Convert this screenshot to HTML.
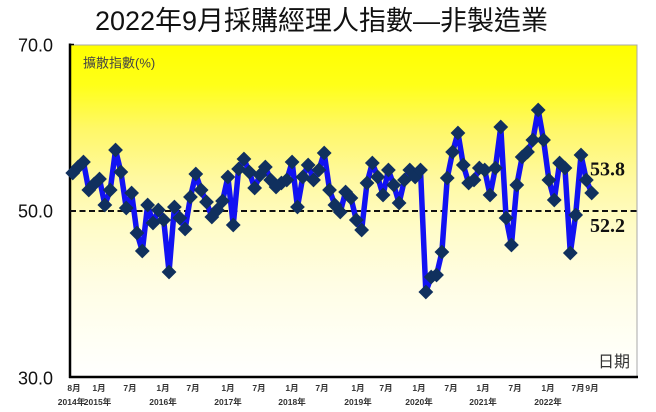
<!DOCTYPE html>
<html><head><meta charset="utf-8"><style>
html,body{margin:0;padding:0;background:#fff;}
svg{display:block;}
</style></head><body>
<svg width="656" height="412" viewBox="0 0 656 412" xmlns="http://www.w3.org/2000/svg">
<defs>
<linearGradient id="bg" x1="0" y1="0" x2="0" y2="1">
<stop offset="0" stop-color="#ffff00"/>
<stop offset="0.12" stop-color="#ffff18"/>
<stop offset="0.25" stop-color="#fff866"/>
<stop offset="0.40" stop-color="#fff9a0"/>
<stop offset="0.55" stop-color="#fffcc8"/>
<stop offset="0.72" stop-color="#fffde4"/>
<stop offset="0.88" stop-color="#fffff4"/>
<stop offset="1" stop-color="#ffffff"/>
</linearGradient>
<marker id="dm" markerUnits="userSpaceOnUse" markerWidth="18" markerHeight="18" refX="9" refY="9" orient="0">
<path d="M9 1.6 L16.4 9 L9 16.4 L1.6 9 Z" fill="#10305e"/>
</marker>
</defs>
<text x="95" y="30" font-family="'Liberation Sans','Noto Sans CJK TC',sans-serif" font-size="27" fill="#111" textLength="453" lengthAdjust="spacingAndGlyphs">2022年9月採購經理人指數—非製造業</text>
<rect x="70" y="45" width="567" height="332" fill="url(#bg)" stroke="#a8a8a8" stroke-width="1"/>
<line x1="70" y1="43.5" x2="70" y2="378" stroke="#000" stroke-width="2.5"/>
<line x1="70" y1="44.5" x2="74" y2="44.5" stroke="#000" stroke-width="1.5"/>
<line x1="69" y1="377" x2="638" y2="377" stroke="#000" stroke-width="2.5"/>
<g font-family="'Liberation Sans',sans-serif" font-size="18" fill="#111" text-anchor="end">
<text x="53" y="51.5">70.0</text>
<text x="53" y="217.5">50.0</text>
<text x="53" y="384.5">30.0</text>
</g>
<text x="83" y="67.5" font-family="'Liberation Sans','Noto Sans CJK TC',sans-serif" font-size="13" fill="#444">擴散指數(%)</text>
<text x="598" y="367" font-family="'Liberation Sans','Noto Sans CJK TC',sans-serif" font-size="16" fill="#333">日期</text>
<line x1="70" y1="211" x2="637" y2="211" stroke="#111" stroke-width="2" stroke-dasharray="6,3.5"/>
<polyline fill="none" stroke="#1212f2" stroke-width="5.5" stroke-linejoin="round" marker-start="url(#dm)" marker-mid="url(#dm)" marker-end="url(#dm)" points="72.75,173 78.10,167 83.45,162 88.80,190 94.15,184 99.50,179 104.85,205 110.20,190 115.55,150 120.90,172 126.25,208 131.60,193 136.95,233 142.30,251 147.65,205 153.00,223 158.35,210 163.70,220 169.05,272 174.40,207 179.75,218 185.10,229 190.45,197 195.80,174 201.15,190 206.50,202 211.85,217 217.20,210 222.55,201 227.90,177 233.25,225 238.60,169 243.95,159 249.30,172 254.65,188 260.00,175 265.35,167 270.70,180 276.05,187 281.40,183 286.75,180 292.10,162 297.45,207 302.80,177 308.15,165 313.50,180 318.85,170 324.20,153 329.55,190 334.90,205 340.25,212 345.60,192 350.95,198 356.30,220 361.65,230 367.00,183 372.35,163 377.70,177 383.05,195 388.40,170 393.75,185 399.10,203 404.45,180 409.80,170 415.15,177 420.50,170 425.85,292 431.20,277 436.55,275 441.90,252 447.25,178 452.60,152 457.95,133 463.30,165 468.65,183 474.00,180 479.35,168 484.70,170 490.05,195 495.40,168 500.75,127 506.10,218 511.45,245 516.80,185 522.15,157 527.50,152 532.85,140 538.20,110 543.55,140 548.90,180 554.25,200 559.60,163 564.95,168 570.30,253 575.65,215 581.00,155 586.35,180 591.70,193"/>
<g font-family="'Liberation Serif',serif" font-size="20" font-weight="bold" fill="#111">
<text x="590" y="175.5">53.8</text>
<text x="590" y="232">52.2</text>
</g>
<g font-family="'Liberation Sans','Noto Sans CJK TC',sans-serif" font-size="8.5" font-weight="bold" fill="#333" text-anchor="middle">
<text x="74" y="391">8月</text>
<text x="99" y="391">1月</text>
<text x="130" y="391">7月</text>
<text x="163" y="391">1月</text>
<text x="193" y="391">7月</text>
<text x="228" y="391">1月</text>
<text x="259" y="391">7月</text>
<text x="292" y="391">1月</text>
<text x="322" y="391">7月</text>
<text x="358" y="391">1月</text>
<text x="386" y="391">7月</text>
<text x="419" y="391">1月</text>
<text x="451" y="391">7月</text>
<text x="483" y="391">1月</text>
<text x="515" y="391">7月</text>
<text x="548" y="391">1月</text>
<text x="578" y="391">7月</text>
<text x="592" y="391">9月</text>
<text x="71.5" y="405">2014年</text>
<text x="97.5" y="405">2015年</text>
<text x="163" y="405">2016年</text>
<text x="228" y="405">2017年</text>
<text x="292" y="405">2018年</text>
<text x="358" y="405">2019年</text>
<text x="419" y="405">2020年</text>
<text x="483" y="405">2021年</text>
<text x="548" y="405">2022年</text>
</g>
</svg>
</body></html>
